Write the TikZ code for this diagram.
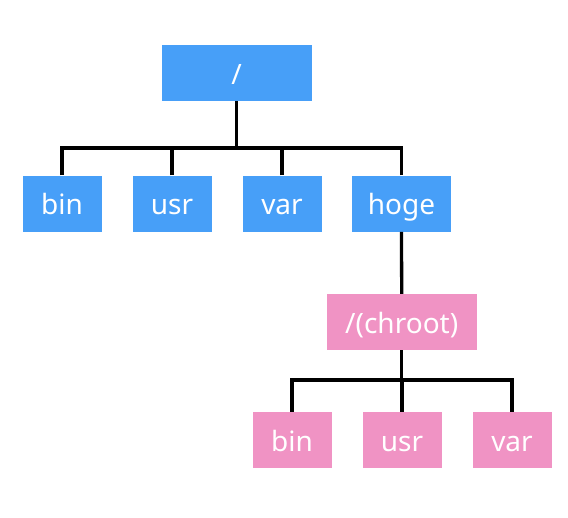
\documentclass[tikz,border=0pt]{standalone}
\usepackage{fontspec}
\setmainfont{Noto Sans}
\usepackage{tikz}

\definecolor{dirblue}{RGB}{71,159,248}
\definecolor{dirpink}{RGB}{240,147,196}

\begin{document}
\begin{tikzpicture}[x=1pt,y=1pt,
		dirbox/.style={fill=#1,text=white,minimum height=56pt,inner sep=0pt,
			text height=22.5pt,text depth=0pt,font=\fontsize{28}{32}\selectfont},
		small/.style={minimum width=79pt},
		wide/.style={minimum width=150pt},
		tree/.style={line width=3.3pt}]
			\useasboundingbox (0,0) rectangle (568,-518);
			% top level
			\node[dirbox=dirblue,wide] (root) at (236.7,-73) {/};
			\node[dirbox=dirblue,small] (bin) at (62,-203.7) {bin};
			\node[dirbox=dirblue,small] (usr) at (172,-203.7) {usr};
			\node[dirbox=dirblue,small] (var) at (282,-203.7) {var};
			\node[dirbox=dirblue,minimum width=99pt] (hoge) at (401.5,-203.7) {hoge};
			% chroot
			\node[dirbox=dirpink,wide] (chroot) at (401.7,-322) {/(chroot)};
			\node[dirbox=dirpink,small] (cbin) at (292,-440) {bin};
			\node[dirbox=dirpink,small] (cusr) at (402,-440) {usr};
			\node[dirbox=dirpink,small] (cvar) at (512,-440) {var};
			\coordinate (bus) at (236.7,-148);
			\coordinate (cbus) at (401.7,-380);
			\draw[tree] (root.south) -- (bus);
			\foreach \n in {bin,usr,var,hoge}
				\draw[tree] (\n.north) |- (bus);
			\draw[tree] (hoge.south) -- (chroot.north);
			\draw[tree] (chroot.south) -- (cbus);
			\foreach \n in {cbin,cusr,cvar}
				\draw[tree] (\n.north) |- (cbus);
		\end{tikzpicture}
\end{document}
